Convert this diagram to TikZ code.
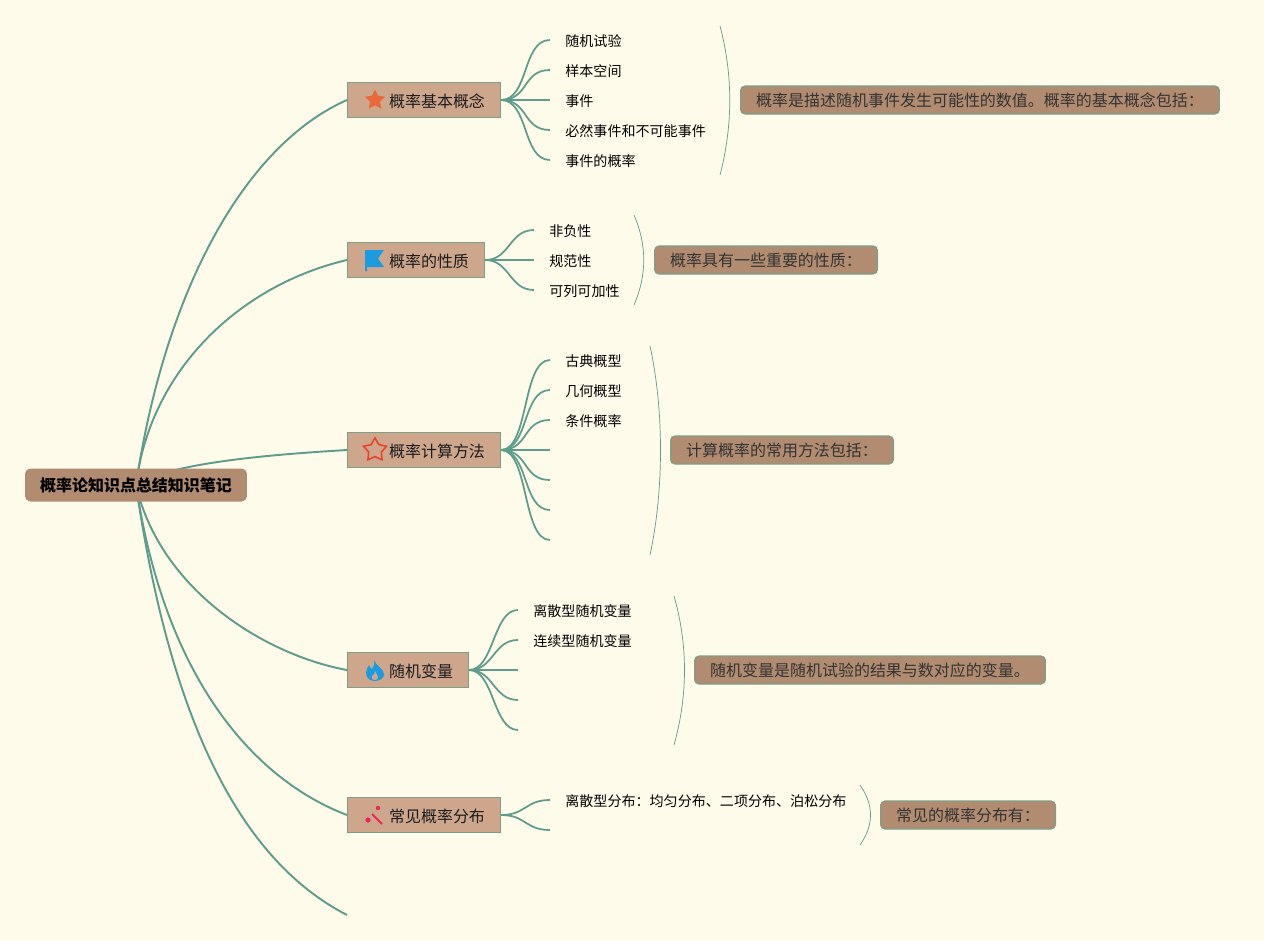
\documentclass[tikz,border=0pt]{standalone}
\usepackage{fontspec}
\setmainfont{Noto Sans CJK SC}
\usetikzlibrary{shapes.geometric}
\usetikzlibrary{backgrounds}
\definecolor{paper}{HTML}{FFFBEB}
\definecolor{branchcol}{HTML}{5F9C8C}
\definecolor{topicfill}{HTML}{CDA68C}
\definecolor{topicline}{HTML}{7A9F8A}
\definecolor{notefill}{HTML}{B18C70}
\definecolor{inkcol}{HTML}{1C1C1C}
\definecolor{noteink}{HTML}{333333}
\definecolor{icoorange}{HTML}{E9693A}
\definecolor{icoblue}{HTML}{1B9BE0}
\definecolor{icored}{HTML}{E8442A}
\definecolor{icopink}{HTML}{E8275A}
\tikzset{
  rootbox/.style={fill=notefill, rounded corners=3pt, inner sep=0pt, minimum width=4.44cm, minimum height=0.66cm, text=black, font=\fontsize{9.1}{11}\selectfont\bfseries},
  topicbox/.style={draw=topicline, line width=0.6pt, fill=topicfill, inner sep=0pt, minimum height=0.7cm, text height=10pt, text depth=1.1pt, anchor=west, text=inkcol, font=\fontsize{9.1}{11}\selectfont},
  leafbox/.style={anchor=west, inner ysep=0pt, inner xsep=0.3cm, text height=8pt, text depth=1pt, text=black, font=\fontsize{8}{10}\selectfont},
  notebox/.style={draw=topicline, line width=0.6pt, fill=notefill, rounded corners=2.5pt, inner sep=0pt, minimum height=0.56cm, anchor=west, text=noteink, font=\fontsize{9.1}{11}\selectfont},
  branch/.style={draw=branchcol, line width=1pt},
  trunk/.style={draw=branchcol, line width=1.1pt},
  bracecurve/.style={draw=branchcol, line width=0.4pt},
}
\begin{document}
\begin{tikzpicture}[x=0.02cm, y=-0.02cm]
  \useasboundingbox (0,0) rectangle (1264,940);

  %% Root and topics
  \node[rootbox] (root) at (136,485) {概率论知识点总结知识笔记};
  \node[topicbox, minimum width=3.06cm] (basic) at (347,100) {\hspace{0.52cm}概率基本概念};
  \node[topicbox, minimum width=2.74cm] (props) at (347,260) {\hspace{0.52cm}概率的性质};
  \node[topicbox, minimum width=3.06cm] (calc) at (347,450) {\hspace{0.52cm}概率计算方法};
  \node[topicbox, minimum width=2.42cm] (rv) at (347,670) {\hspace{0.52cm}随机变量};
  \node[topicbox, minimum width=3.06cm] (dist) at (347,815) {\hspace{0.52cm}常见概率分布};
  \coordinate (last) at (347,915);

  %% Leaves of each topic
  \node[leafbox] (b1) at (550,40) {随机试验};
  \node[leafbox] (b2) at (550,70) {样本空间};
  \node[leafbox] (b3) at (550,100) {事件};
  \node[leafbox] (b4) at (550,130) {必然事件和不可能事件};
  \node[leafbox] (b5) at (550,160) {事件的概率};
  \node[leafbox] (p1) at (534,230) {非负性};
  \node[leafbox] (p2) at (534,260) {规范性};
  \node[leafbox] (p3) at (534,290) {可列可加性};
  \node[leafbox] (c1) at (550,360) {古典概型};
  \node[leafbox] (c2) at (550,390) {几何概型};
  \node[leafbox] (c3) at (550,420) {条件概率};
  \coordinate (c4) at (550,450);
  \coordinate (c5) at (550,480);
  \coordinate (c6) at (550,510);
  \coordinate (c7) at (550,540);
  \node[leafbox] (r1) at (518,610) {离散型随机变量};
  \node[leafbox] (r2) at (518,640) {连续型随机变量};
  \coordinate (r3) at (518,670);
  \coordinate (r4) at (518,700);
  \coordinate (r5) at (518,730);
  \node[leafbox] (d1) at (550,800) {离散型分布：均匀分布、二项分布、泊松分布};
  \coordinate (d2) at (550,830);

  %% Notes on the right
  \node[notebox, minimum width=9.58cm] (nbasic) at (740,100) {概率是描述随机事件发生可能性的数值。概率的基本概念包括：};
  \node[notebox, minimum width=4.46cm] (nprops) at (654,260) {概率具有一些重要的性质：};
  \node[notebox, minimum width=4.46cm] (ncalc) at (670,450) {计算概率的常用方法包括：};
  \node[notebox, minimum width=7.02cm] (nrv) at (694,670) {随机变量是随机试验的结果与数对应的变量。};
  \node[notebox, minimum width=3.5cm] (ndist) at (880,815) {常见的概率分布有：};

  %% Icons
  \node[star, star points=5, star point ratio=2.0, fill=icoorange, inner sep=0pt, minimum size=0.42cm] (icostar) at (375,100) {};
  \node[star, star points=5, star point ratio=1.8, draw=icored, line width=0.9pt, inner sep=0pt, minimum size=0.48cm] (icoring) at (375,450) {};
  \fill[icoblue] (365,250) -- (384,250) -- (378,258.5) -- (384,267) -- (367,267) -- (367,271) -- (365,271) -- cycle;
  \fill[icoblue] (374,660) .. controls (376,666) and (384,669) .. (384,674) .. controls (384,678) and (380,681) .. (375,681)
    .. controls (370,681) and (366,678) .. (366,673) .. controls (366,670) and (368,667) .. (369,665) .. controls (370,667) and (371,669) .. (372,669) .. controls (374,666) and (375,664) .. (374,660) -- cycle;
  \fill[topicfill] (375,671) .. controls (376,674) and (378,675) .. (378,677) .. controls (378,679) and (377,680) .. (375,680) .. controls (373,680) and (371,679) .. (372,676) .. controls (374,675) and (375,673) .. (375,671) -- cycle;
  \draw[icopink, line width=1.1pt] (372,814) -- (382,824);
  \fill[icopink] (368,820) circle (2.6);
  \fill[icopink] (378,808) circle (2.2);

  \begin{scope}[on background layer]
    \fill[paper] (0,0) rectangle (1264,940);
    %% Trunks from the root
    \draw[trunk] (root.center) .. controls (165,290) and (245,145) .. (basic.west);
    \draw[trunk] (root.center) .. controls (150,370) and (240,285) .. (props.west);
    \draw[trunk] (root.center) .. controls (170,462) and (280,454) .. (calc.west);
    \draw[trunk] (root.center) .. controls (160,590) and (265,655) .. (rv.west);
    \draw[trunk] (root.center) .. controls (165,680) and (255,780) .. (dist.west);
    \draw[trunk] (root.center) .. controls (170,720) and (240,860) .. (last);

    %% Branches from the topics
    \foreach \leaf in {b1,b2,b3,b4,b5}
      \draw[branch] (basic.east) .. controls +(28,0) and +(-28,0) .. (\leaf.west);
    \foreach \leaf in {p1,p2,p3}
      \draw[branch] (props.east) .. controls +(25,0) and +(-25,0) .. (\leaf.west);
    \foreach \leaf in {c1,c2,c3}
      \draw[branch] (calc.east) .. controls +(28,0) and +(-28,0) .. (\leaf.west);
    \foreach \leaf in {c4,c5,c6,c7}
      \draw[branch] (calc.east) .. controls +(28,0) and +(-28,0) .. (\leaf);
    \foreach \leaf in {r1,r2}
      \draw[branch] (rv.east) .. controls +(25,0) and +(-25,0) .. (\leaf.west);
    \foreach \leaf in {r3,r4,r5}
      \draw[branch] (rv.east) .. controls +(25,0) and +(-25,0) .. (\leaf);
    \draw[branch] (dist.east) .. controls +(25,0) and +(-25,0) .. (d1.west);
    \draw[branch] (dist.east) .. controls +(25,0) and +(-25,0) .. (d2);

    %% Summary curves
    \draw[bracecurve] (720,26) .. controls (733,75) and (733,125) .. (720,175);
    \draw[bracecurve] (634,215) .. controls (647,245) and (647,275) .. (634,305);
    \draw[bracecurve] (650,346) .. controls (664,410) and (664,490) .. (650,555);
    \draw[bracecurve] (674,596) .. controls (688,645) and (688,695) .. (674,745);
    \draw[bracecurve] (860,785) .. controls (874,805) and (874,825) .. (860,845);
  \end{scope}
\end{tikzpicture}
\end{document}
